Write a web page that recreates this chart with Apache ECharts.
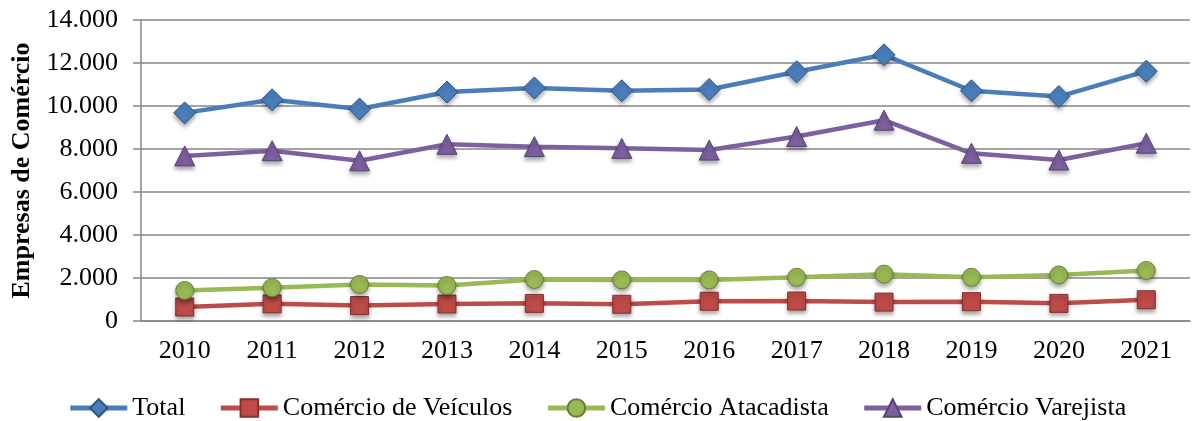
<!DOCTYPE html>
<html>
<head>
<meta charset="utf-8">
<style>
  html, body { margin: 0; padding: 0; background: #fff; }
  #chart { width: 1194px; height: 421px; }
</style>
<script src="https://cdn.jsdelivr.net/npm/echarts@6/dist/echarts.min.js"></script>
</head>
<body>
<div id="chart"></div>
<script>
// anos
const anos = ['2010', '2011', '2012', '2013', '2014', '2015', '2016', '2017', '2018', '2019', '2020', '2021'];

// séries (número de empresas)
const total = [9680, 10290, 9860, 10650, 10840, 10710, 10770, 11590, 12380, 10710, 10440, 11620];
const veiculos = [650, 800, 720, 790, 820, 780, 920, 930, 880, 900, 820, 990];
const atacadista = [1420, 1550, 1700, 1650, 1930, 1910, 1910, 2030, 2180, 2030, 2140, 2350];
const varejista = [7680, 7920, 7450, 8220, 8110, 8030, 7950, 8580, 9340, 7800, 7490, 8270];

const fonte = '"Liberation Serif", "Times New Roman", serif';

const fmt = v => String(v).replace(/\B(?=(\d{3})+(?!\d))/g, '.');

const chart = echarts.init(document.getElementById('chart'));

// helper p/ cada série
const serie = (name, data, color, symbol, size) => ({
  name,
  type: 'line',
  data,
  symbol,
  symbolSize: size,
  lineStyle: { color, width: 4.5 },
  itemStyle: {
    color,
    borderColor: echarts.color.modifyHSL(color, null, null, 0.35),
    borderWidth: 1,
    shadowColor: 'rgba(0,0,0,0.35)',
    shadowBlur: 4,
    shadowOffsetY: 3
  },
  emphasis: { disabled: true }
});

chart.setOption({
  animation: false,
  textStyle: { fontFamily: fonte },
  grid: { left: 141, right: 4, top: 20, bottom: 100 },
  legend: {
    top: 390,
    left: 'center',
    itemWidth: 57,
    itemHeight: 22,
    itemGap: 33,
    lineStyle: { width: 5 },
    itemStyle: { shadowBlur: 0, shadowOffsetY: 0 },
    textStyle: { fontFamily: fonte, fontSize: 26, color: '#000' },
    data: ['Total', 'Comércio de Veículos', 'Comércio Atacadista', 'Comércio Varejista']
  },
  xAxis: {
    type: 'category',
    data: anos,
    boundaryGap: true,
    axisLine: { lineStyle: { color: '#868686', width: 1.5 } },
    axisTick: { length: 8, lineStyle: { color: '#868686', width: 1.5 } },
    axisLabel: { color: '#000', fontSize: 26, fontFamily: fonte, margin: 17 }
  },
  yAxis: {
    type: 'value',
    min: 0,
    max: 14000,
    interval: 2000,
    name: 'Empresas de Comércio',
    nameLocation: 'middle',
    nameGap: 100,
    nameTextStyle: { color: '#000', fontSize: 26, fontWeight: 'bold', fontFamily: fonte },
    axisLine: { show: true, lineStyle: { color: '#868686', width: 1.5 } },
    axisTick: { show: true, length: 8, lineStyle: { color: '#868686', width: 1.5 } },
    axisLabel: { color: '#000', fontSize: 26, fontFamily: fonte, margin: 23, formatter: fmt },
    splitLine: { lineStyle: { color: '#868686', width: 1.5 } }
  },
  series: [
    serie('Total', total, '#4A7EBB', 'diamond', 22),
    serie('Comércio de Veículos', veiculos, '#BE4B48', 'rect', 18),
    serie('Comércio Atacadista', atacadista, '#98B954', 'circle', 18),
    serie('Comércio Varejista', varejista, '#7D60A0', 'triangle', 20)
  ]
});
</script>
</body>
</html>
